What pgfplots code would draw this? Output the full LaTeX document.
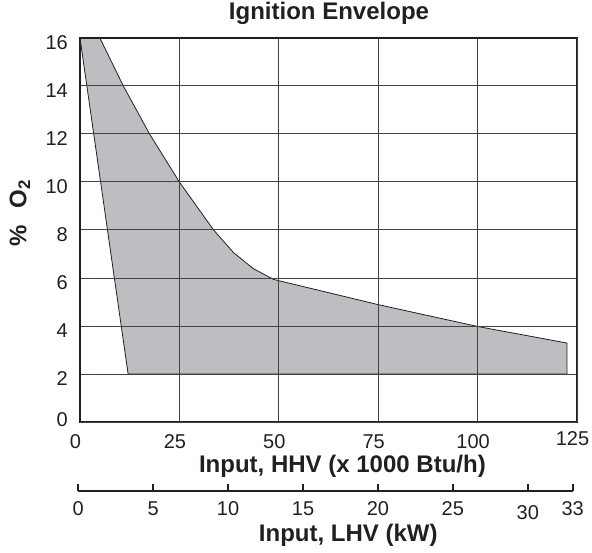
\documentclass[border=0pt]{standalone}
\usepackage{fontspec}
\setmainfont{Liberation Sans}
\usepackage{pgfplots}
\pgfplotsset{compat=1.18}
\definecolor{envfill}{HTML}{BDBEC1}
\definecolor{ink}{HTML}{231F20}
\begin{document}
\begin{tikzpicture}
\useasboundingbox (-80pt,-130pt) rectangle (512pt,422pt);
\begin{axis}[
  at={(0pt,0pt)}, anchor=south west,
  scale only axis, width=497pt, height=384pt,
  xmin=0, xmax=125, ymin=0, ymax=16,
  xtick={0,25,50,75,100}, extra x ticks={125},
  extra x tick style={xticklabel style={yshift=3pt}},
  ytick={2,4,...,16}, extra y ticks={0},
  extra y tick style={yticklabel style={yshift=6.5pt}},
  grid=major, grid style={draw=ink!85, line width=1pt},
  axis line style={draw=ink, line width=2.5pt},
  major tick length=0pt, tick style={draw=none},
  axis on top,
  /pgf/number format/assume math mode=true,
  tick label style={font=\fontsize{20}{24}\selectfont, text=ink, inner sep=0pt},
  xticklabel style={anchor=base, yshift=-26pt, xshift=-4.5pt},
  yticklabel style={anchor=east, xshift=-12pt, yshift=-4.5pt},
  title={Ignition Envelope},
  title style={at={(axis description cs:0.501,1)}, anchor=base, yshift=12pt, inner sep=0pt,
    font=\fontsize{24}{28}\selectfont\bfseries, text=ink},
  xlabel={Input, HHV (x 1000 Btu/h)},
  xlabel style={at={(axis description cs:0.528,0)}, anchor=base, yshift=-50pt, inner sep=0pt,
    font=\fontsize{24}{28}\selectfont\bfseries, text=ink},
  ylabel={\%\hspace{0.7em}O\textsubscript{2}},
  ylabel style={at={(axis description cs:-0.121,0.544)}, anchor=center, inner sep=0pt,
    font=\fontsize{24}{28}\selectfont\bfseries, text=ink},
]
\addplot[fill=envfill, draw=ink, line width=0.8pt, line join=round] coordinates {
  (0,16) (5,16) (10.9,14) (17.5,12) (25,10) (33.6,8) (38.6,7.06)
  (43.6,6.39) (48.7,5.94) (75,4.89) (100,3.98) (122.5,3.29) (122.5,2) (12.1,2) (0,16)
};
\end{axis}
\begin{axis}[
  at={(-1.7pt,-69pt)}, anchor=south west,
  scale only axis, width=494.4pt, height=10pt,
  xmin=0, xmax=33, ymin=0, ymax=1,
  axis x line=bottom, axis y line=none,
  x axis line style={-, draw=ink, line width=2.5pt},
  xtick={0,5,10,15,20,25,33}, extra x ticks={30},
  extra x tick style={xticklabel style={yshift=-4pt}},
  tick align=inside, major tick length=7pt, tick style={draw=ink, line width=2pt},
  /pgf/number format/assume math mode=true,
  tick label style={font=\fontsize{20}{24}\selectfont, text=ink, inner sep=0pt},
  xticklabel style={anchor=base, yshift=-24pt},
  xlabel={Input, LHV (kW)},
  xlabel style={at={(axis description cs:0.546,0)}, anchor=base, yshift=-50.7pt, inner sep=0pt,
    font=\fontsize{24}{28}\selectfont\bfseries, text=ink},
]
\end{axis}
\end{tikzpicture}
\end{document}
